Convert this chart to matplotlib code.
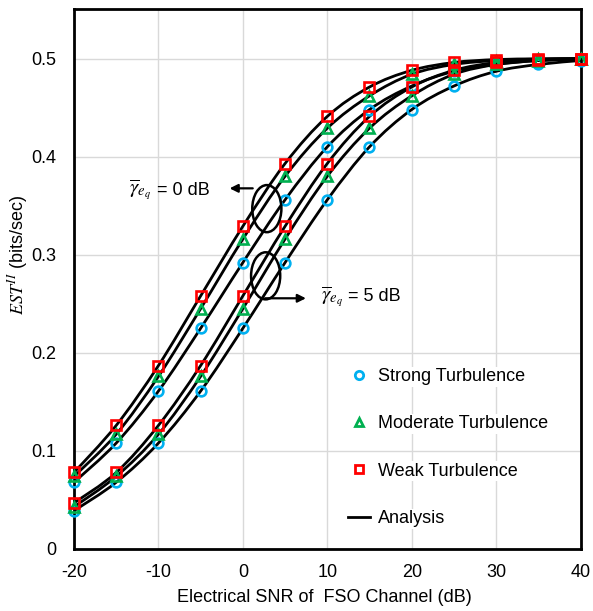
import matplotlib.pyplot as plt
from matplotlib.path import Path
from matplotlib.patches import PathPatch, Ellipse

plt.rcParams['font.family'] = ['Liberation Sans', 'DejaVu Sans']
plt.rcParams['mathtext.fontset'] = 'stix'
plt.rcParams['axes.unicode_minus'] = False

snr = [-20, -15, -10, -5, 0, 5, 10, 15, 20, 25, 30, 35, 40]

# gamma_eq = 0 dB
weak_0 = [0.078, 0.126, 0.187, 0.258, 0.329, 0.393, 0.441, 0.471, 0.488, 0.496, 0.499, 0.4997, 0.5]
mod_0 = [0.074, 0.117, 0.176, 0.245, 0.316, 0.380, 0.429, 0.462, 0.484, 0.494, 0.498, 0.4995, 0.5]
strong_0 = [0.068, 0.108, 0.161, 0.225, 0.292, 0.356, 0.410, 0.448, 0.472, 0.487, 0.494, 0.498, 0.4995]

# gamma_eq = 5 dB
weak_5 = [0.047, 0.078, 0.126, 0.187, 0.258, 0.329, 0.393, 0.441, 0.471, 0.488, 0.496, 0.499, 0.4997]
mod_5 = [0.043, 0.074, 0.117, 0.176, 0.245, 0.316, 0.380, 0.429, 0.462, 0.484, 0.494, 0.498, 0.4995]
strong_5 = [0.039, 0.068, 0.108, 0.161, 0.225, 0.292, 0.356, 0.410, 0.448, 0.472, 0.487, 0.494, 0.498]


def smooth_path(x, y):
    # Catmull-Rom style bezier through the points (like a "smoothed line")
    n = len(x)
    verts = [(x[0], y[0])]
    codes = [Path.MOVETO]
    for i in range(n - 1):
        x0, y0 = (x[i - 1], y[i - 1]) if i > 0 else (x[i], y[i])
        x3, y3 = (x[i + 2], y[i + 2]) if i + 2 < n else (x[i + 1], y[i + 1])
        c1 = (x[i] + (x[i + 1] - x0) / 6, y[i] + (y[i + 1] - y0) / 6)
        c2 = (x[i + 1] - (x3 - x[i]) / 6, y[i + 1] - (y3 - y[i]) / 6)
        verts += [c1, c2, (x[i + 1], y[i + 1])]
        codes += [Path.CURVE4] * 3
    return Path(verts, codes)


fig = plt.figure(figsize=(5.93, 6.11), dpi=100)
ax = fig.add_axes([0.1248, 0.1015, 0.8542, 0.8845])

for s in [weak_0, mod_0, strong_0, weak_5, mod_5, strong_5]:
    ax.add_patch(PathPatch(smooth_path(snr, s), facecolor='none',
                           edgecolor='black', lw=2.0, zorder=3))

mk = dict(linestyle='none', markerfacecolor='none', markeredgewidth=1.9,
          markersize=7, clip_on=False, zorder=4)
for s in [strong_0, strong_5]:
    ax.plot(snr, s, marker='o', markeredgecolor='#00B0F0', **mk)
for s in [mod_0, mod_5]:
    ax.plot(snr, s, marker='^', markeredgecolor='#00B050', **mk)
for s in [weak_0, weak_5]:
    ax.plot(snr, s, marker='s', markeredgecolor='#FF0000', **mk)

# legend handles
h1, = ax.plot([], [], 'o', mfc='none', mec='#00B0F0', mew=2, ms=6)
h2, = ax.plot([], [], '^', mfc='none', mec='#00B050', mew=2, ms=6)
h3, = ax.plot([], [], 's', mfc='none', mec='#FF0000', mew=2, ms=6)
h4, = ax.plot([], [], '-', color='black', lw=2)
leg = ax.legend([h1, h2, h3, h4],
                ['Strong Turbulence', 'Moderate Turbulence', 'Weak Turbulence', 'Analysis'],
                loc='upper left', bbox_to_anchor=(0.527, 0.348), frameon=False,
                fontsize=13, labelspacing=1.68, handlelength=1.2,
                handletextpad=0.45, borderaxespad=0)
for t in leg.get_texts():
    t.set_bbox(dict(facecolor='white', edgecolor='none', pad=1))

# group annotations
ax.add_patch(Ellipse((2.84, 0.347), 3.45, 0.048, facecolor='none',
                     edgecolor='black', lw=1.8, zorder=5))
ax.add_patch(Ellipse((2.7, 0.2785), 3.45, 0.048, facecolor='none',
                     edgecolor='black', lw=1.8, zorder=5))
ax.annotate('', xy=(-1.9, 0.3677), xytext=(1.5, 0.3677),
            arrowprops=dict(arrowstyle='-|>', color='black', lw=1.6,
                            mutation_scale=12), zorder=5)
ax.annotate('', xy=(7.8, 0.2556), xytext=(2.3, 0.2556),
            arrowprops=dict(arrowstyle='-|>', color='black', lw=1.6,
                            mutation_scale=12), zorder=5)
gam = r'$\overline{\gamma}_{e_q}$'
ax.text(-13.5, 0.366, gam, fontsize=15, va='center', ha='left')
ax.text(-10.2, 0.366, '= 0 dB', fontsize=13, va='center', ha='left')
ax.text(9.2, 0.257, gam, fontsize=15, va='center', ha='left')
ax.text(12.5, 0.257, '= 5 dB', fontsize=13, va='center', ha='left')

ax.set_xlim(-20, 40)
ax.set_ylim(0, 0.551)
ax.set_xticks([-20, -10, 0, 10, 20, 30, 40])
ax.set_yticks([0, 0.1, 0.2, 0.3, 0.4, 0.5])
ax.set_yticklabels(['0', '0.1', '0.2', '0.3', '0.4', '0.5'])
ax.tick_params(length=0, labelsize=13)
ax.tick_params(axis='x', pad=11)
ax.tick_params(axis='y', pad=12.5)
ax.grid(True, color='#D9D9D9', lw=1)
ax.set_axisbelow(True)
for sp in ax.spines.values():
    sp.set_linewidth(2)

ax.set_xlabel('Electrical SNR of  FSO Channel (dB)', fontsize=13)
ax.set_ylabel(r'$EST^{II}$ (bits/sec)', fontsize=13)
ax.xaxis.set_label_coords(0.494, -0.074)
ax.yaxis.set_label_coords(-0.087, 0.544)

fig.savefig('out.png', dpi=100)
